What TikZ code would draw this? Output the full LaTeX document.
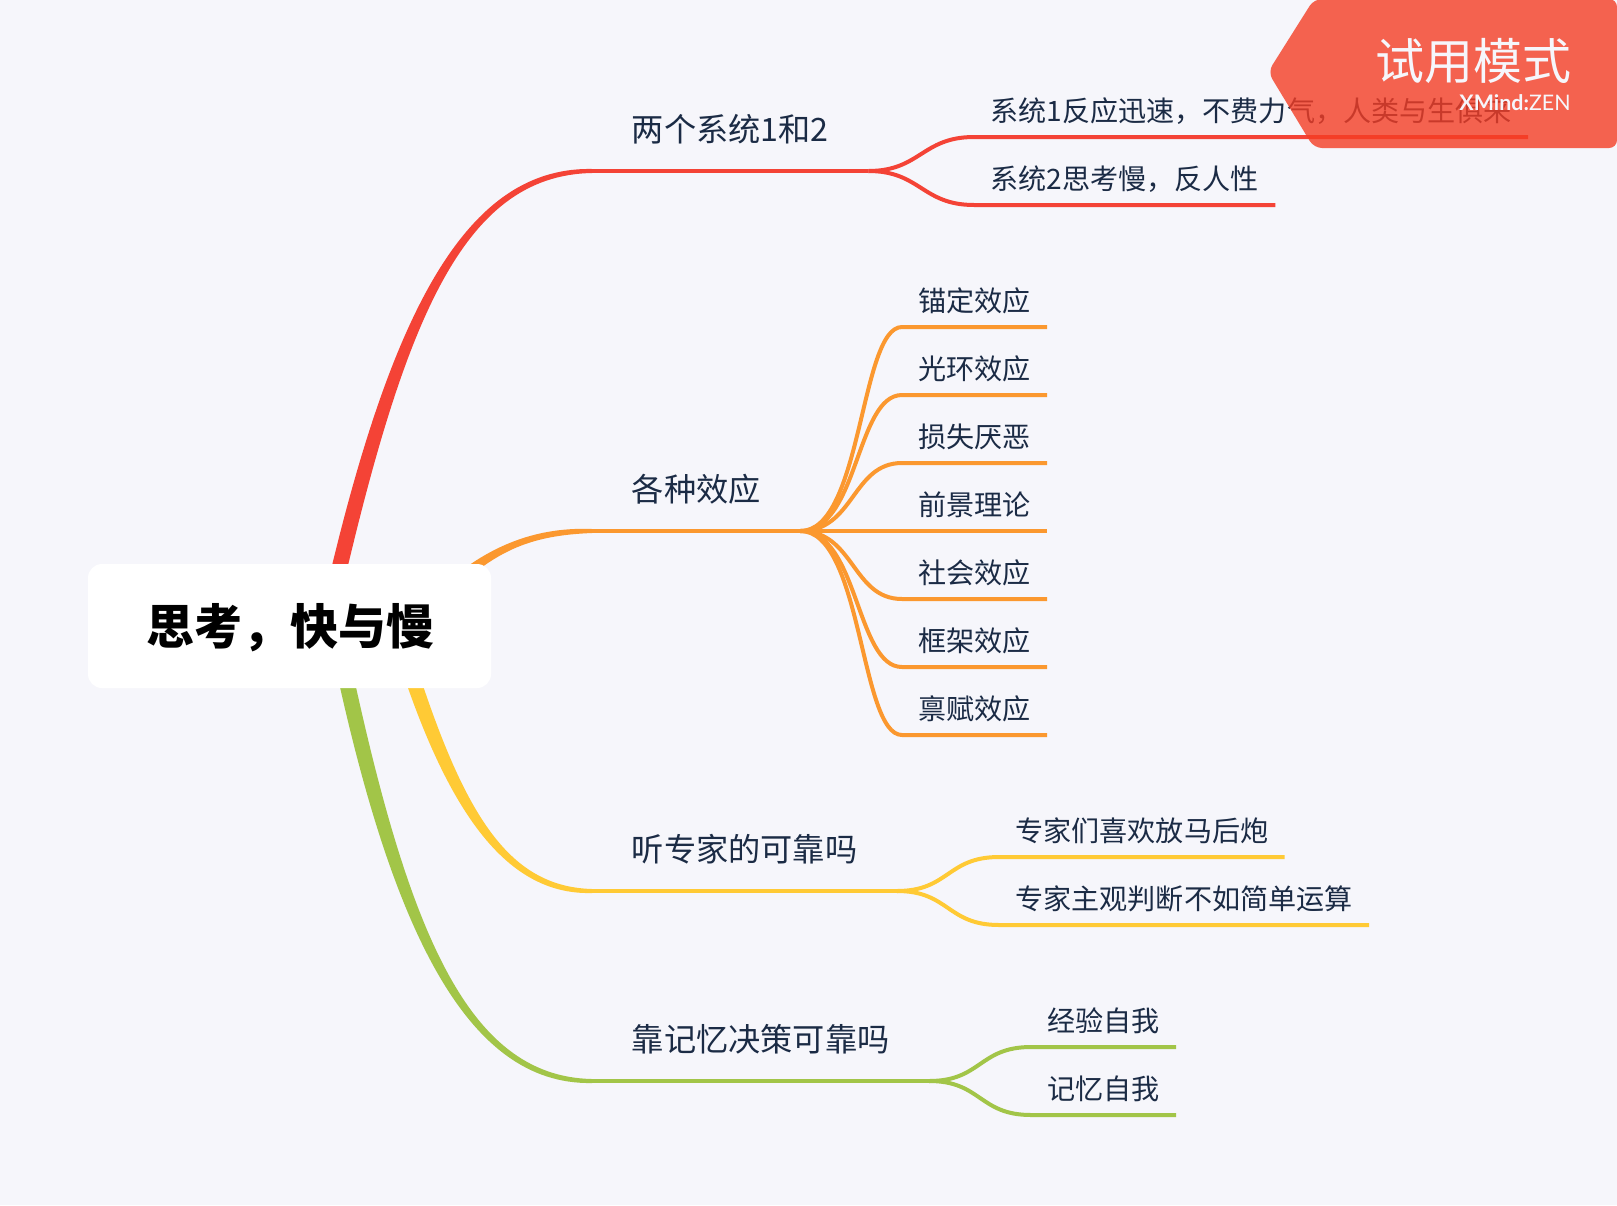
\documentclass[tikz,border=0pt]{standalone}
\usepackage{fontspec}
\usepackage{xcolor}
\usetikzlibrary{calc}
\setmainfont{Noto Sans CJK SC}
\newfontfamily\xmfont{Lato}
\definecolor{bgcol}{HTML}{F6F6FB}
\definecolor{inkcol}{HTML}{1B2B45}
\definecolor{redcol}{HTML}{F44336}
\definecolor{orangecol}{HTML}{FB982F}
\definecolor{yellowcol}{HTML}{FFCA35}
\definecolor{greencol}{HTML}{A2C548}
\definecolor{bannercol}{HTML}{F43D24}
\tikzset{
  topic/.style={anchor=south west, text=inkcol, font=\fontsize{16.1}{20}\selectfont, inner xsep=19.7pt, inner ysep=14.4pt, text depth=0pt},
  subtopic/.style={anchor=south west, text=inkcol, font=\fontsize{14.05}{17}\selectfont, inner xsep=8pt, inner ysep=7.7pt, text depth=0pt},
  twig/.style={line width=2pt},
}
% colour, start, control, control, target, direction
\newcommand{\mainbranch}[6]{
  \fill[#1] ($(#2)+(-8,0)$) .. controls ($(#3)+(-8.5,0)$) and ($(#4)+(0,{-4.5*#6})$) .. ($(#5)+(0,{-2*#6})$)
    -- ($(#5)+(0,{2*#6})$) .. controls ($(#4)+(0,{4.5*#6})$) and ($(#3)+(8.5,0)$) .. ($(#2)+(8,0)$) -- cycle;
}
% colour, topic, subtopic, bend
\newcommand{\twigline}[4]{
  \draw[twig, #1] (#2.south east) .. controls ($(#2.south east)+({52+#4},0)$) and ($(#3.south west)+({-52+#4},0)$) .. (#3.south west) -- (#3.south east);
}
\begin{document}
\begin{tikzpicture}[x=0.5pt,y=-0.5pt]
  \useasboundingbox (0,0) rectangle (1617,1205);
  \fill[bgcol] (0,0) rectangle (1617,1205);

  % first branch
  \node[topic] (sys) at (592,171) {两个系统1和2};
  \node[subtopic] (sysa) at (974,137) {系统1反应迅速，不费力气，人类与生俱来};
  \node[subtopic] (sysb) at (974,205) {系统2思考慢，反人性};
  % second branch
  \node[topic] (eff) at (592,531) {各种效应};
  \node[subtopic] (effa) at (902,327) {锚定效应};
  \node[subtopic] (effb) at (902,395) {光环效应};
  \node[subtopic] (effc) at (902,463) {损失厌恶};
  \node[subtopic] (effd) at (902,531) {前景理论};
  \node[subtopic] (effe) at (902,599) {社会效应};
  \node[subtopic] (efff) at (902,667) {框架效应};
  \node[subtopic] (effg) at (902,735) {禀赋效应};
  % third branch
  \node[topic] (exp) at (592,891) {听专家的可靠吗};
  \node[subtopic] (expa) at (999,857) {专家们喜欢放马后炮};
  \node[subtopic] (expb) at (999,925) {专家主观判断不如简单运算};
  % fourth branch
  \node[topic] (mem) at (592,1081) {靠记忆决策可靠吗};
  \node[subtopic] (mema) at (1031,1047) {经验自我};
  \node[subtopic] (memb) at (1031,1115) {记忆自我};

  \coordinate (sysstart) at (326,626);
  \coordinate (effstart) at (436,600);
  \coordinate (expstart) at (396,626);
  \coordinate (memstart) at (335,626);
  \mainbranch{redcol}{sysstart}{393,326}{460,171}{sys.south west}{1}
  \mainbranch{orangecol}{effstart}{486,550}{530,531}{eff.south west}{1}
  \mainbranch{yellowcol}{expstart}{450,806}{503,891}{exp.south west}{-1}
  \mainbranch{greencol}{memstart}{396,926}{465,1081}{mem.south west}{-1}

  \draw[twig, redcol] (sys.south west) -- (sys.south east);
  \draw[twig, orangecol] (eff.south west) -- (eff.south east);
  \draw[twig, yellowcol] (exp.south west) -- (exp.south east);
  \draw[twig, greencol] (mem.south west) -- (mem.south east);
  \foreach \leaf in {sysa,sysb} {\twigline{redcol}{sys}{\leaf}{0}}
  \foreach \leaf/\bend in {effa/10,effb/6,effc/2,effd/0,effe/2,efff/6,effg/10} {\twigline{orangecol}{eff}{\leaf}{\bend}}
  \foreach \leaf in {expa,expb} {\twigline{yellowcol}{exp}{\leaf}{0}}
  \foreach \leaf in {mema,memb} {\twigline{greencol}{mem}{\leaf}{0}}

  \fill[white, rounded corners=7pt] (88,564) rectangle (491,688);
  \node[font=\fontsize{24}{29}\selectfont\bfseries, text=black] (root) at (290,628) {思考，快与慢};

  % trial banner
  \fill[bannercol, opacity=0.8, rounded corners=4pt] (1314,-1) -- (1617,-1) -- (1617,148) -- (1314,148) -- (1268,72) -- cycle;
  \node[font=\fontsize{24.5}{29}\selectfont, text=bgcol] (trial) at (1473,61) {试用模式};
  \node[font=\fontsize{10.7}{12}\selectfont\xmfont, text=bgcol, anchor=east, inner sep=0pt] (brand) at (1571,103) {\textbf{XMind:}ZEN};
\end{tikzpicture}
\end{document}
